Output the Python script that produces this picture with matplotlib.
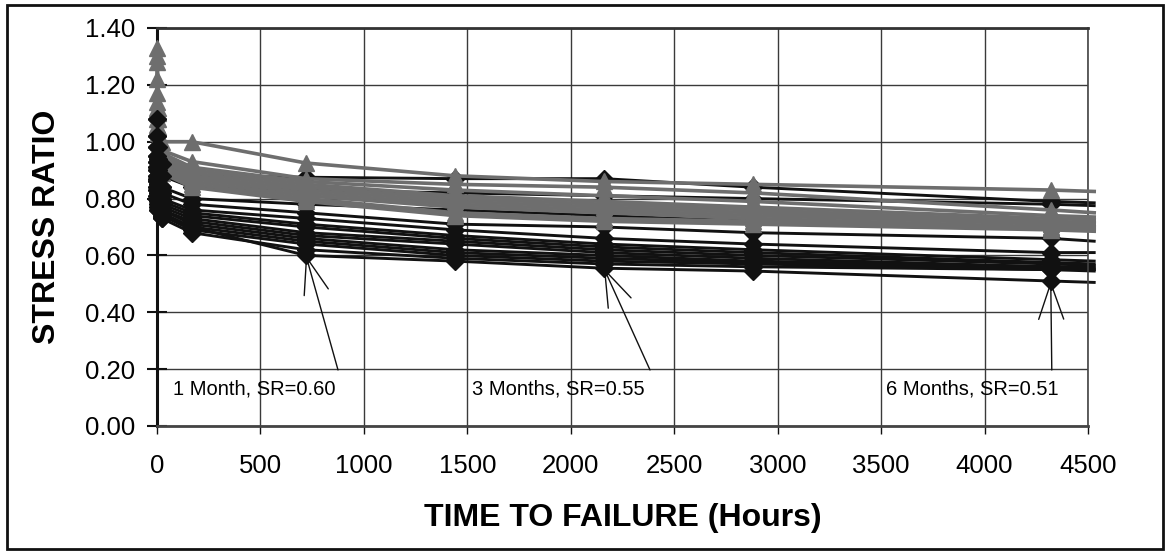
import matplotlib
matplotlib.use("Agg")
import matplotlib.pyplot as plt
from matplotlib.patches import Rectangle

plt.rcParams['font.family'] = ['Liberation Sans', 'DejaVu Sans']

# test hours; last value is the extrapolated end of each curve (no marker)
hours = [0.5, 5, 24, 168, 720, 1440, 2160, 2880, 4320, 4530]

# black curves (diamonds)
b01 = [1.08, 0.98, 0.92, 0.88, 0.875, 0.87, 0.87, 0.84, 0.79, 0.785]
b02 = [1.02, 0.94, 0.88, 0.84, 0.83, 0.82, 0.81, 0.80, 0.78, 0.775]
b03 = [0.98, 0.90, 0.84, 0.80, 0.78, 0.76, 0.74, 0.72, 0.70, 0.70]
b04 = [0.95, 0.87, 0.82, 0.78, 0.75, 0.71, 0.70, 0.68, 0.66, 0.65]
b05 = [0.93, 0.85, 0.80, 0.76, 0.73, 0.69, 0.66, 0.64, 0.61, 0.61]
b06 = [0.91, 0.84, 0.79, 0.75, 0.71, 0.67, 0.64, 0.62, 0.585, 0.58]
b07 = [0.90, 0.83, 0.78, 0.74, 0.70, 0.66, 0.63, 0.61, 0.575, 0.57]
b08 = [0.88, 0.82, 0.77, 0.73, 0.68, 0.65, 0.62, 0.60, 0.57, 0.565]
b09 = [0.87, 0.81, 0.76, 0.72, 0.67, 0.64, 0.61, 0.59, 0.56, 0.56]
b10 = [0.86, 0.80, 0.76, 0.71, 0.66, 0.62, 0.60, 0.58, 0.56, 0.555]
b11 = [0.84, 0.79, 0.75, 0.70, 0.65, 0.61, 0.59, 0.575, 0.555, 0.55]
b12 = [0.83, 0.78, 0.74, 0.69, 0.64, 0.60, 0.58, 0.57, 0.55, 0.55]
b13 = [0.81, 0.77, 0.73, 0.68, 0.62, 0.59, 0.57, 0.56, 0.55, 0.545]
b14 = [0.80, 0.76, 0.74, 0.70, 0.60, 0.58, 0.555, 0.545, 0.51, 0.505]

# grey curves (triangles)
g01 = [1.33, 1.12, 1.00, 1.00, 0.925, 0.88, 0.86, 0.85, 0.83, 0.825]
g02 = [1.30, 1.10, 0.97, 0.93, 0.87, 0.85, 0.84, 0.82, 0.76, 0.75]
g03 = [1.28, 1.08, 0.96, 0.91, 0.86, 0.83, 0.81, 0.79, 0.74, 0.735]
g04 = [1.22, 1.05, 0.95, 0.90, 0.85, 0.81, 0.79, 0.77, 0.73, 0.725]
g05 = [1.17, 1.03, 0.94, 0.89, 0.84, 0.80, 0.78, 0.76, 0.72, 0.715]
g06 = [1.14, 1.01, 0.93, 0.88, 0.83, 0.79, 0.77, 0.75, 0.715, 0.71]
g07 = [1.12, 1.00, 0.92, 0.87, 0.82, 0.78, 0.76, 0.74, 0.71, 0.70]
g08 = [1.10, 0.98, 0.91, 0.86, 0.81, 0.77, 0.75, 0.73, 0.70, 0.695]
g09 = [1.08, 0.97, 0.90, 0.85, 0.80, 0.75, 0.73, 0.72, 0.695, 0.69]
g10 = [1.06, 0.95, 0.89, 0.84, 0.79, 0.74, 0.72, 0.71, 0.69, 0.685]

black_curves = [b01, b02, b03, b04, b05, b06, b07, b08, b09, b10, b11, b12, b13, b14]
grey_curves = [g01, g02, g03, g04, g05, g06, g07, g08, g09, g10]

# annotations: text, text position, arrow tip, arrow tail
notes = ["1 Month, SR=0.60", "3 Months, SR=0.55", "6 Months, SR=0.51"]
note_xy = [(78, 0.13), (1525, 0.13), (3525, 0.13)]
tip_xy = [(720, 0.60), (2160, 0.555), (4320, 0.51)]
tail_xy = [(875, 0.197), (2383, 0.197), (4325, 0.197)]

fig = plt.figure(figsize=(11.68, 5.52), dpi=100)
ax = fig.add_axes([0.1344, 0.2283, 0.7971, 0.7210])

black = '#111111'
grey = '#6e6e6e'

for c in black_curves:
    ax.plot(hours, c, color=black, lw=2.1, marker='D', ms=9.5,
            markevery=slice(0, len(hours) - 1), clip_on=False, zorder=2)
for c in grey_curves:
    ax.plot(hours, c, color=grey, lw=2.6, marker='^', ms=12,
            markevery=slice(0, len(hours) - 1), clip_on=False, zorder=3)
# early black points sit on top of the grey column
for c in black_curves:
    ax.plot(hours[:3], c[:3], color=black, lw=0, marker='D', ms=9.5,
            clip_on=False, zorder=4)

for t, xy, tip, tail in zip(notes, note_xy, tip_xy, tail_xy):
    ax.text(xy[0], xy[1], t, fontsize=14.5, va='center', ha='left', zorder=5)
    ax.annotate('', xy=tip, xytext=tail,
                arrowprops=dict(arrowstyle='->,head_length=2.6,head_width=0.9',
                                mutation_scale=10, lw=1.0, color=black,
                                shrinkA=0, shrinkB=0), zorder=5)

ax.set_xlim(0, 4500)
ax.set_ylim(0, 1.4)
ax.set_xticks(range(0, 4501, 500))
ax.set_yticks([0.0, 0.2, 0.4, 0.6, 0.8, 1.0, 1.2, 1.4])
ax.set_yticklabels(['%.2f' % v for v in ax.get_yticks()])
ax.grid(True, color='#3a3a3a', lw=1.0, zorder=0)
ax.set_axisbelow(True)

ax.tick_params(axis='both', labelsize=18.5, color=black)
ax.tick_params(axis='y', direction='inout', length=14, width=1.5, pad=9)
ax.tick_params(axis='x', direction='out', length=6, width=1.0, pad=14)

ax.spines['left'].set_linewidth(2.2)
ax.spines['left'].set_color(black)
ax.spines['bottom'].set_linewidth(2.0)
ax.spines['bottom'].set_color('#444444')
ax.spines['top'].set_linewidth(2.0)
ax.spines['top'].set_color('#333333')
ax.spines['right'].set_linewidth(1.2)
ax.spines['right'].set_color('#444444')

ax.set_xlabel('TIME TO FAILURE (Hours)', fontsize=23, fontweight='bold', labelpad=18)
ax.set_ylabel('STRESS RATIO', fontsize=23, fontweight='bold', labelpad=16)

# outer frame around the whole picture
fig.patches.append(Rectangle((0.006, 0.006), 0.990, 0.985, transform=fig.transFigure,
                             fill=False, lw=2.0, edgecolor=black))

fig.savefig('out.png', dpi=100)
